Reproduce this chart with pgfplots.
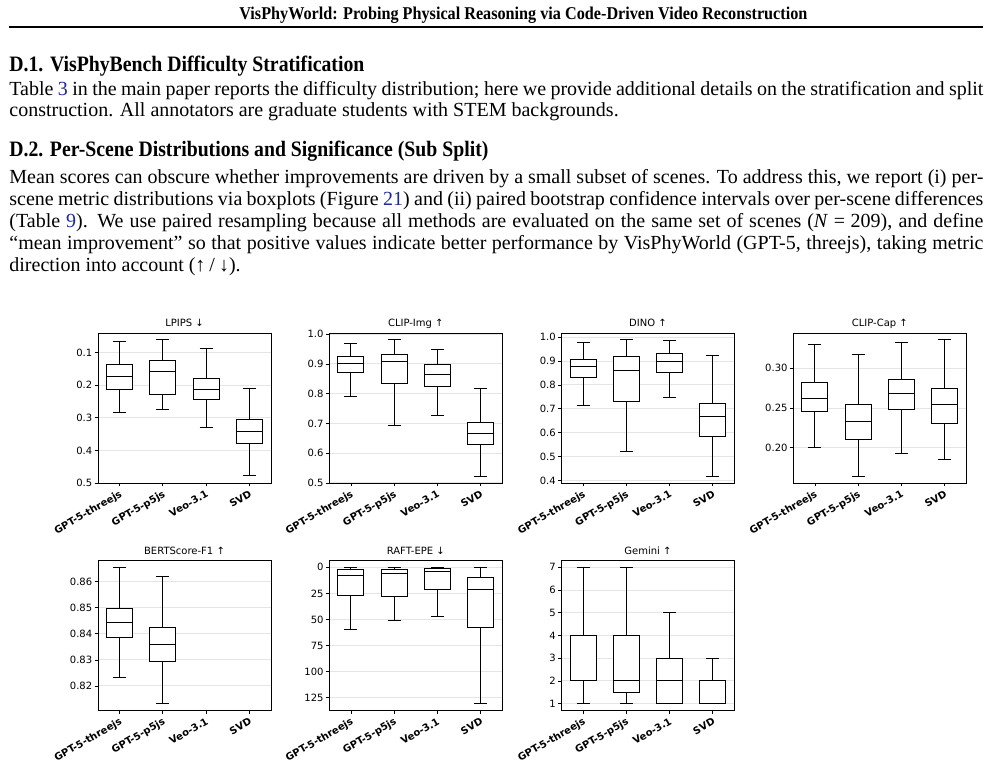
\documentclass[border=0pt]{standalone}
\usepackage{fontspec}
\usepackage{graphicx}
\usepackage{xcolor}
\usepackage{pgfplots}
\pgfplotsset{compat=1.18}
\usepgfplotslibrary{statistics}
\setmainfont{Liberation Serif}
\newfontfamily\figfont{DejaVu Sans}
\definecolor{linkblue}{RGB}{30,40,150}
\newcommand{\lnk}[1]{\textcolor{linkblue}{#1}}
\newcommand{\tickfont}{\figfont\fontsize{5}{6}\selectfont}
\pgfplotsset{
 bp/.style={
  scale only axis, width=86.5pt, height=75pt,
  xmin=0.5, xmax=4.5, xtick={1,2,3,4},
  xticklabels={GPT-5-threejs,GPT-5-p5js,Veo-3.1,SVD},
  tick align=outside, tick pos=left,
  major tick length=1.7pt,
  every tick/.style={black, line width=0.4pt},
  axis line style={line width=0.5pt, black},
  ymajorgrids, major grid style={black!10, line width=0.5pt},
  yticklabel style={font=\tickfont, inner sep=1pt},
  xticklabel style={font=\figfont\bfseries\fontsize{5}{6}\selectfont, rotate=30, anchor=north east, inner sep=1pt},
  title style={font=\tickfont, anchor=base, at={(0.5,1)}, yshift=-2.8pt},
  boxplot/draw direction=y,
  boxplot/box extend=0.6, boxplot/whisker extend=0.3,
 }
}
\newcommand{\bx}[6]{\addplot[boxplot/draw direction=y, boxplot prepared={draw position=#1, lower whisker=#2, lower quartile=#3, median=#4, upper quartile=#5, upper whisker=#6}, draw=black, line width=0.5pt, fill=white, mark=none] coordinates {};}
\begin{document}
\begin{tikzpicture}
\path[use as bounding box] (0,0) rectangle (495pt,-383.5pt);
% header
\node[anchor=base west, inner sep=0] at (119.5pt,-9.5pt) {\resizebox{284pt}{\height}{\fontsize{9}{11}\selectfont\bfseries VisPhyWorld: Probing Physical Reasoning via Code-Driven Video Reconstruction}};
\draw[line width=1pt] (4.5pt,-13.3pt) -- (491.5pt,-13.3pt);
% D.1
\node[anchor=base west, inner sep=0] at (4.5pt,-35.75pt) {\resizebox{177.5pt}{\height}{\fontsize{11}{13}\selectfont\bfseries D.1. VisPhyBench Difficulty Stratification}};
\node[anchor=base west, inner sep=0] at (4.5pt,-47.75pt) {\fontsize{10}{11}\selectfont\makebox[487pt][s]{Table \lnk{3} in the main paper reports the difficulty distribution; here we provide additional details on the stratification and split}};
\node[anchor=base west, inner sep=0] at (4.5pt,-58.25pt) {\fontsize{10}{11}\selectfont construction. All annotators are graduate students with STEM backgrounds.};
% D.2
\node[anchor=base west, inner sep=0] at (4.5pt,-78.25pt) {\resizebox{239.5pt}{\height}{\fontsize{11}{13}\selectfont\bfseries D.2. Per-Scene Distributions and Significance (Sub Split)}};
\node[anchor=base west, inner sep=0] at (4.5pt,-91.75pt) {\fontsize{10}{11}\selectfont\makebox[487pt][s]{Mean scores can obscure whether improvements are driven by a small subset of scenes. To address this, we report (i) per-}};
\node[anchor=base west, inner sep=0] at (4.5pt,-102.75pt) {\fontsize{10}{11}\selectfont\makebox[487pt][s]{scene metric distributions via boxplots (Figure \lnk{21}) and (ii) paired bootstrap confidence intervals over per-scene differences}};
\node[anchor=base west, inner sep=0] at (4.5pt,-113.75pt) {\fontsize{10}{11}\selectfont\makebox[487pt][s]{(Table \lnk{9}). We use paired resampling because all methods are evaluated on the same set of scenes (\textit{N}\kern2.8pt=\kern2.8pt209), and define}};
\node[anchor=base west, inner sep=0] at (4.5pt,-124.75pt) {\fontsize{10}{11}\selectfont\makebox[487pt][s]{“mean improvement” so that positive values indicate better performance by VisPhyWorld (GPT-5, threejs), taking metric}};
\node[anchor=base west, inner sep=0] at (4.5pt,-135.75pt) {\fontsize{10}{11}\selectfont direction into account (↑\kern2pt/\kern2pt↓).};

% Row 1
\begin{axis}[bp, at={(49pt,-166.5pt)}, anchor=north west, title={LPIPS ↓},
  y dir=reverse, ymin=0.04, ymax=0.5,
  ytick={0.1,0.2,0.3,0.4,0.5}, yticklabels={0.1,0.2,0.3,0.4,0.5}]
\bx{1}{0.0652}{0.1368}{0.1727}{0.2125}{0.2831}
\bx{2}{0.0611}{0.1235}{0.1583}{0.2289}{0.2749}
\bx{3}{0.0887}{0.1798}{0.2146}{0.2432}{0.3292}
\bx{4}{0.2105}{0.3056}{0.3425}{0.3793}{0.4775}
\end{axis}
\begin{axis}[bp, at={(164.65pt,-166.5pt)}, anchor=north west, title={CLIP-Img ↑},
  ymin=0.4996, ymax=1.004,
  ytick={0.5,0.6,0.7,0.8,0.9,1.0}, yticklabels={0.5,0.6,0.7,0.8,0.9,1.0}]
\bx{1}{0.7899}{0.8708}{0.9011}{0.9236}{0.9685}
\bx{2}{0.6944}{0.8326}{0.9067}{0.9315}{0.981}
\bx{3}{0.7258}{0.8236}{0.8629}{0.8978}{0.9472}
\bx{4}{0.5225}{0.6292}{0.6663}{0.7045}{0.818}
\end{axis}
\begin{axis}[bp, at={(280.75pt,-166.5pt)}, anchor=north west, title={DINO ↑},
  ymin=0.39, ymax=1.017,
  ytick={0.4,0.5,0.6,0.7,0.8,0.9,1.0}, yticklabels={0.4,0.5,0.6,0.7,0.8,0.9,1.0}]
\bx{1}{0.7133}{0.8294}{0.8769}{0.9063}{0.9762}
\bx{2}{0.5217}{0.7315}{0.8601}{0.9175}{0.9888}
\bx{3}{0.7455}{0.8517}{0.8965}{0.9315}{0.9846}
\bx{4}{0.4182}{0.5832}{0.6699}{0.7203}{0.9231}
\end{axis}
\begin{axis}[bp, at={(396.65pt,-166.5pt)}, anchor=north west, title={CLIP-Cap ↑},
  ymin=0.1557, ymax=0.3443,
  ytick={0.20,0.25,0.30}, yticklabels={0.20,0.25,0.30}]
\bx{1}{0.20}{0.2454}{0.2622}{0.2819}{0.3298}
\bx{2}{0.1643}{0.2101}{0.2336}{0.255}{0.3168}
\bx{3}{0.1929}{0.2483}{0.2685}{0.2861}{0.3324}
\bx{4}{0.1849}{0.2303}{0.2538}{0.2744}{0.3357}
\end{axis}

% Row 2
\begin{axis}[bp, at={(49pt,-280.25pt)}, anchor=north west, title={BERTScore-F1 ↑},
  ymin=0.8106, ymax=0.8681,
  ytick={0.82,0.83,0.84,0.85,0.86}, yticklabels={0.82,0.83,0.84,0.85,0.86}]
\bx{1}{0.8231}{0.8384}{0.8444}{0.8496}{0.8655}
\bx{2}{0.8132}{0.8294}{0.8358}{0.8425}{0.8621}
\end{axis}
\begin{axis}[bp, at={(164.65pt,-280.25pt)}, anchor=north west, title={RAFT-EPE ↓},
  y dir=reverse, ymin=-6.54, ymax=137.34,
  ytick={0,25,50,75,100,125}, yticklabels={0,25,50,75,100,125}]
\bx{1}{0}{1.6}{7.4}{27.3}{60.1}
\bx{2}{0}{1.6}{5.8}{28.3}{51.4}
\bx{3}{0}{1.0}{4.2}{21.2}{46.9}
\bx{4}{0}{9.6}{21.5}{57.8}{130.8}
\end{axis}
\begin{axis}[bp, at={(280.75pt,-280.25pt)}, anchor=north west, title={Gemini ↑},
  ymin=0.7, ymax=7.3,
  ytick={1,2,3,4,5,6,7}, yticklabels={1,2,3,4,5,6,7}]
\bx{1}{1}{2}{2}{4}{7}
\bx{2}{1}{1.5}{2}{4}{7}
\bx{3}{1}{1}{2}{3}{5}
\bx{4}{1}{1}{1}{2}{3}
\end{axis}
\end{tikzpicture}
\end{document}
